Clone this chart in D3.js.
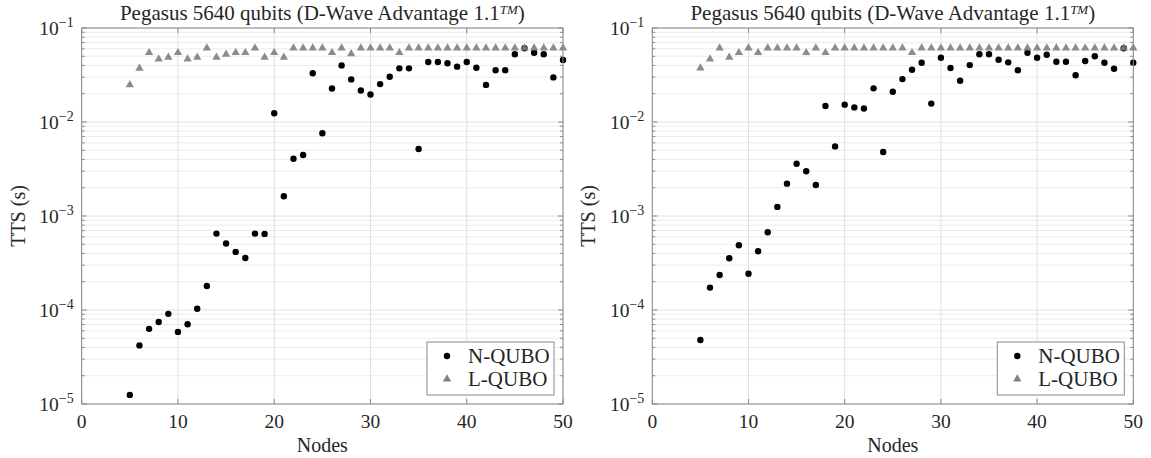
<!DOCTYPE html>
<html>
<head>
<meta charset="utf-8">
<script src="https://cdn.jsdelivr.net/npm/d3@7"></script>
<style>
  body { margin: 0; background: #fff; }
  text { font-family: "Liberation Serif", serif; fill: #262626; }
</style>
</head>
<body>
<svg id="chart" width="1151" height="458"></svg>
<script>
// x categories (number of nodes)
const nodes = [5,6,7,8,9,10,11,12,13,14,15,16,17,18,19,20,21,22,23,24,25,26,27,28,29,30,
  31,32,33,34,35,36,37,38,39,40,41,42,43,44,45,46,47,48,49,50];

// left panel
const nQuboLeft = [1.25e-5,4.2e-5,6.3e-5,7.45e-5,9.1e-5,5.85e-5,7.05e-5,1.03e-4,1.8e-4,6.5e-4,
  5.1e-4,4.15e-4,3.57e-4,6.5e-4,6.45e-4,1.24e-2,1.62e-3,4.07e-3,4.46e-3,3.3e-2,
  7.6e-3,2.27e-2,4.0e-2,2.84e-2,2.16e-2,1.96e-2,2.53e-2,3.03e-2,3.72e-2,3.72e-2,
  5.17e-3,4.35e-2,4.35e-2,4.21e-2,3.88e-2,4.35e-2,3.78e-2,2.48e-2,3.55e-2,3.56e-2,
  5.25e-2,6.1e-2,5.46e-2,5.25e-2,2.98e-2,4.57e-2];
const lQuboLeft = [.0248,.0372,.0546,.0468,.0488,.0546,.0468,.0488,.0612,.0488,
  .0525,.0546,.0546,.0612,.0488,.0546,.0488,.0612,.0612,.0612,
  .0612,.0546,.0612,.053,.0612,.0612,.0612,.0612,.0546,.0612,
  .0612,.0612,.0612,.0612,.0612,.0612,.0612,.0612,.0612,.0612,
  .0612,.0612,.0612,.0612,.0612,.0612];

// right panel
const nQuboRight = [4.8e-5,1.73e-4,2.36e-4,3.55e-4,4.88e-4,2.43e-4,4.21e-4,6.71e-4,1.25e-3,2.21e-3,
  3.6e-3,2.99e-3,2.14e-3,1.48e-2,5.5e-3,1.53e-2,1.43e-2,1.39e-2,2.28e-2,4.8e-3,
  2.1e-2,2.86e-2,3.6e-2,4.27e-2,1.57e-2,4.83e-2,3.75e-2,2.75e-2,4.03e-2,5.25e-2,
  5.25e-2,4.6e-2,4.31e-2,3.55e-2,5.46e-2,4.83e-2,5.2e-2,4.38e-2,4.38e-2,3.14e-2,
  4.46e-2,5.0e-2,4.27e-2,3.69e-2,6.1e-2,4.27e-2];
const lQuboRight = [.0375,.0468,.0612,.0488,.0546,.0612,.0546,.0612,.0612,.0612,
  .0612,.0546,.0612,.0546,.0612,.0612,.0612,.0612,.0612,.0612,
  .0612,.0612,.0546,.0612,.0612,.0612,.0612,.0612,.0612,.0612,
  .0612,.0612,.0612,.0612,.0612,.0612,.0612,.0612,.0612,.0612,
  .0612,.0612,.0612,.0612,.0612,.0612];

const xTicks = [0,10,20,30,40,50];
const yTicks = [1e-5,1e-4,1e-3,1e-2,1e-1];
const yExp = ["\u22125","\u22124","\u22123","\u22122","\u22121"];
const titleText = "Pegasus 5640 qubits (D-Wave Advantage 1.1";
const seriesNames = ["N-QUBO","L-QUBO"];

const svg = d3.select("#chart");
const plotTop = 28, plotBottom = 404;
const axisColor = "#8a8a8a";

function drawPanel(left, right, nq, lq) {
  const g = svg.append("g");
  const x = d3.scaleLinear().domain([0, 50]).range([left, right]);
  const y = d3.scaleLog().domain([1e-5, 1e-1]).range([plotBottom, plotTop]);

  // minor grid
  const minor = [];
  for (let e = -5; e < -1; e++) for (let m = 2; m <= 9; m++) minor.push(m * Math.pow(10, e));
  g.selectAll(".mg").data(minor).enter().append("line")
    .attr("x1", left).attr("x2", right)
    .attr("y1", d => y(d)).attr("y2", d => y(d))
    .attr("stroke", "#ececec").attr("stroke-width", 1);
  // major grid
  g.selectAll(".gy").data(yTicks).enter().append("line")
    .attr("x1", left).attr("x2", right)
    .attr("y1", d => y(d)).attr("y2", d => y(d))
    .attr("stroke", "#e0e0e0");
  g.selectAll(".gx").data(xTicks).enter().append("line")
    .attr("x1", d => x(d)).attr("x2", d => x(d))
    .attr("y1", plotTop).attr("y2", plotBottom)
    .attr("stroke", "#e0e0e0");

  // data
  g.selectAll(".nq").data(nodes).enter().append("circle")
    .attr("cx", (d) => x(d)).attr("cy", (d, i) => y(nq[i]))
    .attr("r", 3.2).attr("fill", "#000");
  g.selectAll(".lq").data(nodes).enter().append("path")
    .attr("d", d3.symbol(d3.symbolTriangle, 30))
    .attr("transform", (d, i) => `translate(${x(d)},${y(lq[i])})`)
    .attr("fill", "#808080").attr("fill-opacity", 0.9);

  // box
  g.append("rect").attr("x", left).attr("y", plotTop)
    .attr("width", right - left).attr("height", plotBottom - plotTop)
    .attr("fill", "none").attr("stroke", axisColor);

  // ticks (inward)
  xTicks.forEach(t => {
    g.append("line").attr("x1", x(t)).attr("x2", x(t)).attr("y1", plotBottom).attr("y2", plotBottom - 5).attr("stroke", axisColor);
    g.append("line").attr("x1", x(t)).attr("x2", x(t)).attr("y1", plotTop).attr("y2", plotTop + 5).attr("stroke", axisColor);
  });
  yTicks.forEach(t => {
    g.append("line").attr("x1", left).attr("x2", left + 5).attr("y1", y(t)).attr("y2", y(t)).attr("stroke", axisColor);
    g.append("line").attr("x1", right).attr("x2", right - 5).attr("y1", y(t)).attr("y2", y(t)).attr("stroke", axisColor);
  });
  minor.forEach(t => {
    g.append("line").attr("x1", left).attr("x2", left + 3).attr("y1", y(t)).attr("y2", y(t)).attr("stroke", axisColor);
    g.append("line").attr("x1", right).attr("x2", right - 3).attr("y1", y(t)).attr("y2", y(t)).attr("stroke", axisColor);
  });

  // tick labels
  g.selectAll(".xl").data(xTicks).enter().append("text")
    .attr("x", d => x(d)).attr("y", 428)
    .attr("text-anchor", "middle").attr("font-size", 19.5)
    .text(d => d);
  yTicks.forEach((t, i) => {
    const tx = g.append("text").attr("x", left - 8).attr("y", y(t) + 7)
      .attr("text-anchor", "end").attr("font-size", 19.5);
    tx.append("tspan").text("10");
    tx.append("tspan").attr("dy", -8).attr("font-size", 14).text(yExp[i]);
  });

  // axis labels
  g.append("text").attr("x", (left + right) / 2).attr("y", 452)
    .attr("text-anchor", "middle").attr("font-size", 20).text("Nodes");
  g.append("text")
    .attr("transform", `translate(${left - 57},${(plotTop + plotBottom) / 2}) rotate(-90)`)
    .attr("text-anchor", "middle").attr("font-size", 20).text("TTS (s)");

  // title
  const tt = g.append("text").attr("x", (left + right) / 2).attr("y", 20)
    .attr("text-anchor", "middle").attr("font-size", 21);
  tt.append("tspan").text(titleText);
  tt.append("tspan").attr("dy", -6).attr("font-size", 13).attr("font-style", "italic").text("TM");
  tt.append("tspan").attr("dy", 6).text(")");

  // legend
  const lx = right - 136, ly = 342;
  g.append("rect").attr("x", lx).attr("y", ly).attr("width", 127).attr("height", 53)
    .attr("fill", "#fff").attr("stroke", axisColor);
  g.append("circle").attr("cx", lx + 20).attr("cy", ly + 14).attr("r", 3.2).attr("fill", "#000");
  g.append("path").attr("d", d3.symbol(d3.symbolTriangle, 30))
    .attr("transform", `translate(${lx + 20},${ly + 37})`).attr("fill", "#808080");
  seriesNames.forEach((s, i) => {
    g.append("text").attr("x", lx + 41).attr("y", ly + 21 + i * 23)
      .attr("font-size", 21).text(s);
  });
}

drawPanel(81.7, 563, nQuboLeft, lQuboLeft);
drawPanel(652.3, 1133.3, nQuboRight, lQuboRight);
</script>
</body>
</html>
